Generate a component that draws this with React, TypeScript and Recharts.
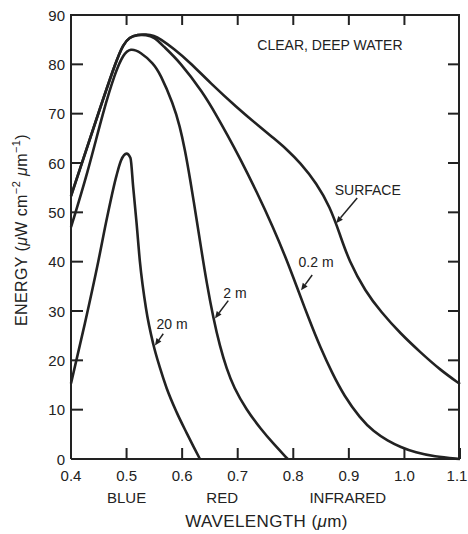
import React from "react";
import { LineChart, Line, XAxis, YAxis, ReferenceLine, ReferenceDot } from "recharts";

// wavelength (um) / energy (uW cm-2 um-1)
const surfaceX = [0.4, 0.413, 0.446, 0.482, 0.494, 0.505, 0.52, 0.535, 0.55, 0.56, 0.585, 0.614, 0.65, 0.698, 0.74, 0.764, 0.79, 0.812, 0.842, 0.866, 0.884, 0.9, 0.93, 0.958, 0.993, 1.03, 1.065, 1.1];
const surfaceY = [53.3, 57.7, 69, 81, 84, 85.5, 86, 86.1, 85.8, 85.2, 83.2, 80.4, 76.3, 71.3, 67.3, 65.1, 62.6, 60.1, 55.9, 51.1, 45.5, 40.2, 33.9, 29.8, 25.4, 21.5, 18.0, 15.2];

const shallowX = [0.4, 0.413, 0.446, 0.482, 0.494, 0.505, 0.52, 0.535, 0.55, 0.565, 0.596, 0.638, 0.662, 0.68, 0.704, 0.734, 0.764, 0.788, 0.806, 0.828, 0.849, 0.87, 0.891, 0.92, 0.945, 0.97, 0.993, 1.02, 1.053, 1.1];
const shallowY = [53.3, 57.7, 69, 81, 84, 85.5, 86, 86, 85.5, 83.8, 80.5, 74.2, 69.6, 66.0, 61.0, 54.2, 46.9, 40.4, 35.0, 28.4, 22.5, 17.4, 12.9, 8.3, 5.5, 3.7, 2.4, 1.3, 0.5, 0];

const midX = [0.4, 0.43, 0.458, 0.48, 0.494, 0.507, 0.525, 0.548, 0.56, 0.584, 0.596, 0.605, 0.614, 0.626, 0.635, 0.644, 0.656, 0.668, 0.68, 0.693, 0.715, 0.742, 0.765, 0.79];
const midY = [47, 58, 70.5, 78.5, 82, 83.3, 82.5, 80.2, 78.2, 72.0, 67.4, 62.7, 57.0, 48.6, 42.1, 35.8, 28.6, 22.8, 18.3, 14.5, 10.1, 6.0, 3.0, 0];

const deepX = [0.4, 0.425, 0.449, 0.465, 0.482, 0.49, 0.5, 0.507, 0.512, 0.518, 0.524, 0.535, 0.548, 0.56, 0.572, 0.59, 0.608, 0.62, 0.632];
const deepY = [15.3, 27.5, 40, 49, 57.5, 60.5, 61.9, 61, 55, 47.8, 40, 30.5, 23.3, 18.5, 14.4, 9.5, 5.3, 2.6, 0];

const xTicks = [0.4, 0.5, 0.6, 0.7, 0.8, 0.9, 1.0, 1.1];
const yTicks = [0, 10, 20, 30, 40, 50, 60, 70, 80, 90];

const bands = ["BLUE", "RED", "INFRARED"];
const bandAt = [0.5, 0.672, 0.898];

const notes = ["CLEAR, DEEP WATER", "SURFACE", "0.2 m", "2 m", "20 m"];
const noteX = [0.866, 0.934, 0.841, 0.695, 0.582];
const noteY = [84.0, 54.5, 39.9, 33.7, 27.4];
// arrow tail -> head, for the depth labels
const arrowFrom = [null, [0.915, 52.9], [0.834, 37.3], [0.683, 32.1], [0.566, 25.4]];
const arrowTo = [null, [0.877, 47.8], [0.814, 34.2], [0.659, 28.5], [0.551, 23.0]];

const ink = "#222";
const font = "'Liberation Sans', Arial, Helvetica, sans-serif";

const W = 468;
const H = 534;
const margin = { top: 15, right: 8, bottom: 0, left: 0 };
const yAxisW = 71;
const xAxisH = 75;

const xMin = xTicks[0];
const xMax = xTicks[xTicks.length - 1];
const yMin = yTicks[0];
const yMax = yTicks[yTicks.length - 1];

// plot box, from the same layout numbers the chart uses
const plotL = margin.left + yAxisW;
const plotR = W - margin.right;
const plotT = margin.top;
const plotB = H - margin.bottom - xAxisH;
const sx = (v: number) => plotL + ((v - xMin) / (xMax - xMin)) * (plotR - plotL);
const sy = (v: number) => plotB - ((v - yMin) / (yMax - yMin)) * (plotB - plotT);

const zip = (xs: number[], ys: number[]) => xs.map((x, i) => ({ x, y: ys[i] }));

const curves = [
  { data: zip(surfaceX, surfaceY), kind: "basis" },
  { data: zip(shallowX, shallowY), kind: "basis" },
  { data: zip(midX, midY), kind: "basis" },
  { data: zip(deepX, deepY), kind: "monotone" },
];

const BottomTick = (p: any) => {
  const last = p.payload.value > 1.05;
  return (
    <g>
      <line x1={p.x} x2={p.x} y1={p.y} y2={p.y - 11} stroke={ink} strokeWidth={2} />
      <text x={last ? p.x - 3 : p.x} y={p.y + 22} textAnchor="middle" fontSize={15} fill={ink} fontFamily={font}>
        {p.payload.value.toFixed(1)}
      </text>
    </g>
  );
};

const LeftTick = (p: any) => (
  <g>
    <line x1={p.x} x2={p.x + 12} y1={p.y} y2={p.y} stroke={ink} strokeWidth={2} />
    <text x={p.x - 6} y={p.y + 5.5} textAnchor="end" fontSize={15} fill={ink} fontFamily={font}>
      {p.payload.value}
    </text>
  </g>
);

const YTitle = (p: any) => {
  const cx = p.viewBox.x + 21;
  const cy = p.viewBox.y + p.viewBox.height / 2 - 7;
  return (
    <text
      x={cx}
      y={cy}
      dy={5.5}
      transform={`rotate(-90, ${cx}, ${cy})`}
      textAnchor="middle"
      fontSize={16}
      letterSpacing={0.4}
      fill={ink}
      fontFamily={font}
    >
      ENERGY  (<tspan fontStyle="italic">μ</tspan>W cm
      <tspan dy={-7} fontSize={11}>−2</tspan>
      <tspan dy={7}> </tspan>
      <tspan fontStyle="italic">μ</tspan>m
      <tspan dy={-7} fontSize={11}>−1</tspan>
      <tspan dy={7}>)</tspan>
    </text>
  );
};

const XTitle = (p: any) => {
  const cx = p.viewBox.x + p.viewBox.width / 2 + 1;
  const y = p.viewBox.y + p.viewBox.height - 7;
  return (
    <text x={cx} y={y} textAnchor="middle" fontSize={17} letterSpacing={0.4} fill={ink} fontFamily={font}>
      WAVELENGTH  (<tspan fontStyle="italic">μ</tspan>m)
    </text>
  );
};

const Arrow = (p: any) => {
  const { x1, y1, x2, y2 } = p;
  const a = Math.atan2(y2 - y1, x2 - x1);
  const len = 7;
  const w = 3;
  const bx = x2 - len * Math.cos(a);
  const by = y2 - len * Math.sin(a);
  const px = -Math.sin(a) * w;
  const py = Math.cos(a) * w;
  return (
    <g>
      <line x1={x1} y1={y1} x2={bx} y2={by} stroke={ink} strokeWidth={1.5} />
      <polygon points={`${x2},${y2} ${bx + px},${by + py} ${bx - px},${by - py}`} fill={ink} />
    </g>
  );
};

// top and right edges of the box (plain borders) with their inward ticks
const Frame = () => (
  <>
    <div
      style={{
        position: "absolute",
        left: plotL - 1,
        top: plotT - 1,
        width: plotR - plotL + 1,
        height: plotB - plotT + 1,
        borderTop: `2px solid ${ink}`,
        borderRight: `2px solid ${ink}`,
        boxSizing: "border-box",
        pointerEvents: "none",
        zIndex: 2,
      }}
    />
    <svg
      width={W}
      height={H}
      style={{ position: "absolute", left: 0, top: 0, pointerEvents: "none", zIndex: 3 }}
    >
      {xTicks.slice(1, -1).map((v) => (
        <line key={"t" + v} x1={sx(v)} x2={sx(v)} y1={plotT} y2={plotT + 10} stroke={ink} strokeWidth={2} />
      ))}
      {yTicks.slice(1, -1).map((v) => (
        <line key={"r" + v} x1={plotR} x2={plotR - 12} y1={sy(v)} y2={sy(v)} stroke={ink} strokeWidth={2} />
      ))}
    </svg>
  </>
);

export default function App() {
  return (
    <div style={{ position: "absolute", left: 0, top: 0, width: W, height: H, background: "#fff" }}>
      <LineChart width={W} height={H} margin={margin}>
        <XAxis
          dataKey="x"
          type="number"
          domain={[xMin, xMax]}
          ticks={xTicks}
          interval={0}
          height={xAxisH}
          tickSize={0}
          tickMargin={0}
          tickLine={false}
          axisLine={{ stroke: ink, strokeWidth: 2 }}
          tick={BottomTick}
          label={{ content: XTitle }}
        />
        <YAxis
          type="number"
          domain={[yMin, yMax]}
          ticks={yTicks}
          interval={0}
          width={yAxisW}
          tickSize={0}
          tickMargin={0}
          tickLine={false}
          axisLine={{ stroke: ink, strokeWidth: 2 }}
          tick={LeftTick}
          label={{ content: YTitle }}
        />
        {curves.map((c, i) => (
          <Line
            key={i}
            data={c.data}
            dataKey="y"
            type={c.kind as any}
            stroke={ink}
            strokeWidth={2.6}
            dot={false}
            activeDot={false}
            isAnimationActive={false}
          />
        ))}
        {notes.map((t, i) =>
          arrowFrom[i] ? (
            <ReferenceLine
              key={"a" + i}
              segment={[
                { x: arrowFrom[i]![0], y: arrowFrom[i]![1] },
                { x: arrowTo[i]![0], y: arrowTo[i]![1] },
              ]}
              shape={Arrow}
            />
          ) : null
        )}
        {notes.map((t, i) => (
          <ReferenceDot
            key={"n" + i}
            x={noteX[i]}
            y={noteY[i]}
            r={0}
            shape={(p: any) => (
              <text x={p.cx} y={p.cy + 5} textAnchor="middle" fontSize={14} fill={ink} fontFamily={font}>
                {t}
              </text>
            )}
          />
        ))}
        {bands.map((b, i) => (
          <ReferenceDot
            key={"b" + i}
            x={bandAt[i]}
            y={-7.8}
            r={0}
            ifOverflow="visible"
            shape={(p: any) => (
              <text x={p.cx} y={p.cy + 5.5} textAnchor="middle" fontSize={15} fill={ink} fontFamily={font}>
                {b}
              </text>
            )}
          />
        ))}
      </LineChart>
      <Frame />
    </div>
  );
}
